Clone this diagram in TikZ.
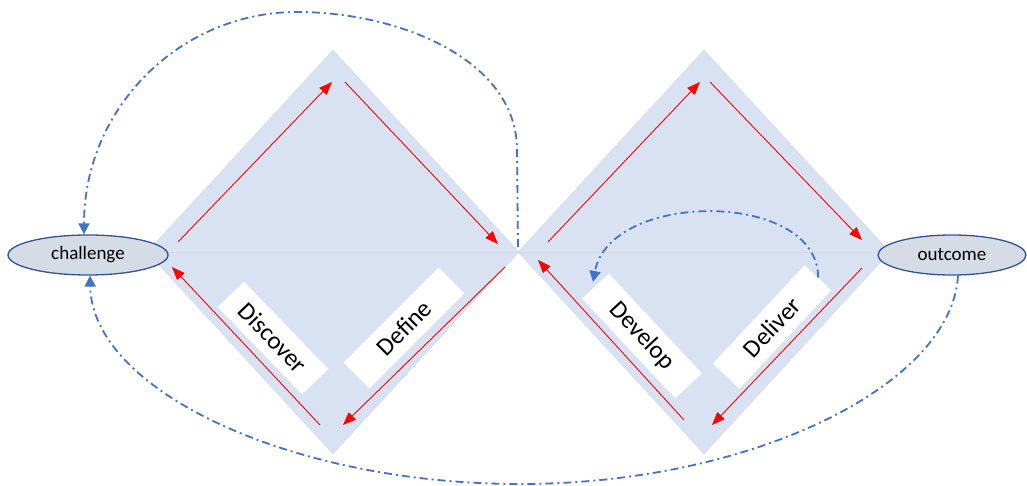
\documentclass[tikz,border=0pt]{standalone}
\usepackage{fontspec}
\setmainfont{Carlito}
\usetikzlibrary{shapes.geometric,arrows.meta}

\definecolor{diafill}{HTML}{D9E2F3}
\definecolor{diaedge}{HTML}{D3D7DE}
\definecolor{ovalfill}{HTML}{D6DCE5}
\definecolor{ovaledge}{HTML}{2F5597}
\definecolor{backblue}{HTML}{4472C4}

\tikzset{
  phase/.style={diamond, draw=diaedge, fill=diafill, inner sep=0pt, minimum width=372pt, minimum height=404pt},
  tag/.style={draw=gray!20, fill=white, minimum height=37pt, inner sep=0pt, font=\fontsize{25}{28}\selectfont},
  oval/.style={ellipse, draw=ovaledge, line width=1.3pt, fill=ovalfill, inner sep=0pt, minimum height=40pt, font=\fontsize{19}{22}\selectfont},
  flow/.style={red, line width=0.9pt, -{Triangle[length=13pt,width=10pt]}},
  feedback/.style={backblue, line width=1.8pt, dash pattern=on 8pt off 4pt on 2pt off 4pt, -{Triangle[length=11pt,width=11pt]}}
}

\begin{document}
\begin{tikzpicture}[x=1pt, y=-1pt]
\useasboundingbox (0,0) rectangle (1027,486);
\node[phase] (dia1) at (333,252) {};
\node[phase] (dia2) at (704,252) {};
\draw[gray!30, line width=1pt] (dia1.west) -- (dia2.east);

\node[tag, minimum width=122pt, rotate=-46] (disc) at (273,338) {Discover};
\node[tag, minimum width=135pt, rotate=45] (defn) at (404,328) {Define};
\node[tag, minimum width=137pt, rotate=-47] (devl) at (642,336) {Develop};
\node[tag, minimum width=135pt, rotate=47] (delv) at (772,327) {Deliver};

\node[oval, minimum width=160pt] (chal) at (88,255) {challenge};
\node[oval, minimum width=148pt] (outc) at (952,255) {outcome};

% red arrows along the diamond edges
\coordinate (a1) at (320,425); \coordinate (b1) at (172,267);
\coordinate (a2) at (178,242); \coordinate (b2) at (332,82);
\coordinate (a3) at (345,82);  \coordinate (b3) at (498,244);
\coordinate (a4) at (505,267); \coordinate (b4) at (343,425);
\coordinate (a5) at (548,242); \coordinate (b5) at (700,82);
\coordinate (a6) at (710,82);  \coordinate (b6) at (862,240);
\coordinate (a7) at (862,268); \coordinate (b7) at (712,425);
\coordinate (a8) at (684,420); \coordinate (b8) at (538,260);
\draw[flow] (a1) -- (b1);
\draw[flow] (a2) -- (b2);
\draw[flow] (a3) -- (b3);
\draw[flow] (a4) -- (b4);
\draw[flow] (a5) -- (b5);
\draw[flow] (a6) -- (b6);
\draw[flow] (a7) -- (b7);
\draw[flow] (a8) -- (b8);

% dash-dot loops back
\coordinate (mid) at (518,247);
\coordinate (top) at (297,12);
\coordinate (low) at (520,484);
\draw[feedback] (mid) -- (517,150) .. controls (517,60) and (400,12) .. (top)
  .. controls (180,12) and (84,108) .. (chal.north -| 84,0);
\draw[feedback] (delv.east) .. controls (818,190) and (610,190) .. (593,282);
\draw[feedback] (outc.south -| 958,0) .. controls (952,385) and (752,484) .. (low)
  .. controls (290,484) and (92,390) .. (chal.south -| 90,0);
\end{tikzpicture}
\end{document}
